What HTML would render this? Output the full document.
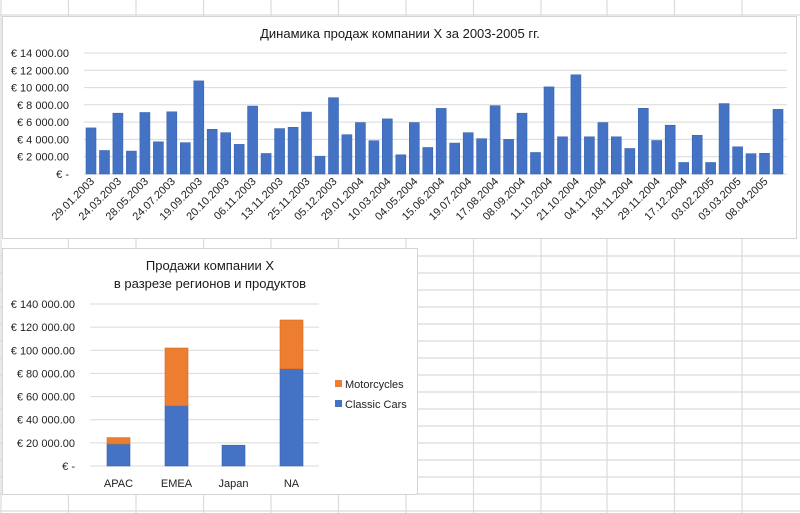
<!DOCTYPE html>
<html><head><meta charset="utf-8"><style>
html,body{margin:0;padding:0;background:#fff;}
svg{display:block;font-family:"Liberation Sans","DejaVu Sans",sans-serif;}
</style></head><body>
<svg width="800" height="513" viewBox="0 0 800 513" xmlns="http://www.w3.org/2000/svg">
<g stroke="#dadada" stroke-width="1.2">
<line x1="1" y1="0" x2="1" y2="513"/>
<line x1="68.5" y1="0" x2="68.5" y2="513"/><line x1="136" y1="0" x2="136" y2="513"/><line x1="203.5" y1="0" x2="203.5" y2="513"/><line x1="271" y1="0" x2="271" y2="513"/><line x1="338.5" y1="0" x2="338.5" y2="513"/><line x1="406" y1="0" x2="406" y2="513"/><line x1="473.5" y1="0" x2="473.5" y2="513"/><line x1="541" y1="0" x2="541" y2="513"/><line x1="607" y1="0" x2="607" y2="513"/><line x1="674.5" y1="0" x2="674.5" y2="513"/><line x1="742" y1="0" x2="742" y2="513"/>
<line x1="0" y1="15" x2="800" y2="15"/><line x1="0" y1="256" x2="800" y2="256"/><line x1="0" y1="273" x2="800" y2="273"/><line x1="0" y1="290" x2="800" y2="290"/><line x1="0" y1="307" x2="800" y2="307"/><line x1="0" y1="324" x2="800" y2="324"/><line x1="0" y1="341" x2="800" y2="341"/><line x1="0" y1="358" x2="800" y2="358"/><line x1="0" y1="375" x2="800" y2="375"/><line x1="0" y1="392" x2="800" y2="392"/><line x1="0" y1="409" x2="800" y2="409"/><line x1="0" y1="426" x2="800" y2="426"/><line x1="0" y1="443" x2="800" y2="443"/><line x1="0" y1="460" x2="800" y2="460"/><line x1="0" y1="477" x2="800" y2="477"/><line x1="0" y1="494" x2="800" y2="494"/><line x1="0" y1="511" x2="800" y2="511"/>
</g>
<rect x="2.5" y="16.5" width="794" height="222" fill="#fff" stroke="#d4d4d4"/>
<text x="400" y="38" font-size="13" text-anchor="middle" fill="#1a1a1a">Динамика продаж компании X за 2003-2005 гг.</text>
<g stroke="#d9d9d9" stroke-width="1">
<line x1="84" y1="53" x2="787" y2="53"/><line x1="84" y1="70.3" x2="787" y2="70.3"/><line x1="84" y1="87.6" x2="787" y2="87.6"/><line x1="84" y1="104.8" x2="787" y2="104.8"/><line x1="84" y1="122.1" x2="787" y2="122.1"/><line x1="84" y1="139.4" x2="787" y2="139.4"/><line x1="84" y1="156.7" x2="787" y2="156.7"/><line x1="84" y1="174" x2="787" y2="174"/>
</g>
<g font-size="11" text-anchor="end" fill="#222">
<text x="69" y="57">€ 14 000.00</text><text x="69" y="74.3">€ 12 000.00</text><text x="69" y="91.6">€ 10 000.00</text><text x="69" y="108.8">€ 8 000.00</text><text x="69" y="126.1">€ 6 000.00</text><text x="69" y="143.4">€ 4 000.00</text><text x="69" y="160.7">€ 2 000.00</text><text x="69" y="178">€ -</text>
</g>
<g fill="#4472c4" stroke="#3a64b0" stroke-width="0.6">
<rect x="86" y="127.9" width="10" height="46.1"/><rect x="99.5" y="150.5" width="10" height="23.5"/><rect x="112.9" y="113.2" width="10" height="60.8"/><rect x="126.4" y="151.1" width="10" height="22.9"/><rect x="139.9" y="112.5" width="10" height="61.5"/><rect x="153.4" y="141.8" width="10" height="32.2"/><rect x="166.8" y="111.8" width="10" height="62.2"/><rect x="180.3" y="142.7" width="10" height="31.3"/><rect x="193.8" y="80.9" width="10" height="93.1"/><rect x="207.2" y="129.3" width="10" height="44.7"/><rect x="220.7" y="132.7" width="10" height="41.3"/><rect x="234.2" y="144.4" width="10" height="29.6"/><rect x="247.6" y="106.1" width="10" height="67.9"/><rect x="261.1" y="153.5" width="10" height="20.5"/><rect x="274.6" y="128.6" width="10" height="45.4"/><rect x="288.1" y="127.3" width="10" height="46.7"/><rect x="301.5" y="112.1" width="10" height="61.9"/><rect x="315" y="156.2" width="10" height="17.8"/><rect x="328.5" y="97.7" width="10" height="76.3"/><rect x="341.9" y="134.7" width="10" height="39.3"/><rect x="355.4" y="122.6" width="10" height="51.4"/><rect x="368.9" y="140.7" width="10" height="33.3"/><rect x="382.3" y="118.9" width="10" height="55.1"/><rect x="395.8" y="154.8" width="10" height="19.2"/><rect x="409.3" y="122.6" width="10" height="51.4"/><rect x="422.8" y="147.5" width="10" height="26.5"/><rect x="436.2" y="108.4" width="10" height="65.6"/><rect x="449.7" y="143.1" width="10" height="30.9"/><rect x="463.2" y="132.7" width="10" height="41.3"/><rect x="476.6" y="138.7" width="10" height="35.3"/><rect x="490.1" y="105.7" width="10" height="68.3"/><rect x="503.6" y="139.4" width="10" height="34.6"/><rect x="517" y="113.2" width="10" height="60.8"/><rect x="530.5" y="152.5" width="10" height="21.5"/><rect x="544" y="86.9" width="10" height="87.1"/><rect x="557.5" y="136.8" width="10" height="37.2"/><rect x="570.9" y="74.8" width="10" height="99.2"/><rect x="584.4" y="136.8" width="10" height="37.2"/><rect x="597.9" y="122.6" width="10" height="51.4"/><rect x="611.3" y="136.8" width="10" height="37.2"/><rect x="624.8" y="148.5" width="10" height="25.5"/><rect x="638.3" y="108.3" width="10" height="65.7"/><rect x="651.7" y="140.5" width="10" height="33.5"/><rect x="665.2" y="125.2" width="10" height="48.8"/><rect x="678.7" y="162.5" width="10" height="11.5"/><rect x="692.2" y="135.3" width="10" height="38.7"/><rect x="705.6" y="162.5" width="10" height="11.5"/><rect x="719.1" y="103.6" width="10" height="70.4"/><rect x="732.6" y="146.8" width="10" height="27.2"/><rect x="746" y="153.7" width="10" height="20.3"/><rect x="759.5" y="153.3" width="10" height="20.7"/><rect x="773" y="109.4" width="10" height="64.6"/>
</g>
<g font-size="11" text-anchor="end" fill="#222">
<text transform="translate(95,182) rotate(-45)">29.01.2003</text>
<text transform="translate(121.9,182) rotate(-45)">24.03.2003</text>
<text transform="translate(148.9,182) rotate(-45)">28.05.2003</text>
<text transform="translate(175.8,182) rotate(-45)">24.07.2003</text>
<text transform="translate(202.8,182) rotate(-45)">19.09.2003</text>
<text transform="translate(229.7,182) rotate(-45)">20.10.2003</text>
<text transform="translate(256.6,182) rotate(-45)">06.11.2003</text>
<text transform="translate(283.6,182) rotate(-45)">13.11.2003</text>
<text transform="translate(310.5,182) rotate(-45)">25.11.2003</text>
<text transform="translate(337.5,182) rotate(-45)">05.12.2003</text>
<text transform="translate(364.4,182) rotate(-45)">29.01.2004</text>
<text transform="translate(391.3,182) rotate(-45)">10.03.2004</text>
<text transform="translate(418.3,182) rotate(-45)">04.05.2004</text>
<text transform="translate(445.2,182) rotate(-45)">15.06.2004</text>
<text transform="translate(472.2,182) rotate(-45)">19.07.2004</text>
<text transform="translate(499.1,182) rotate(-45)">17.08.2004</text>
<text transform="translate(526,182) rotate(-45)">08.09.2004</text>
<text transform="translate(553,182) rotate(-45)">11.10.2004</text>
<text transform="translate(579.9,182) rotate(-45)">21.10.2004</text>
<text transform="translate(606.9,182) rotate(-45)">04.11.2004</text>
<text transform="translate(633.8,182) rotate(-45)">18.11.2004</text>
<text transform="translate(660.7,182) rotate(-45)">29.11.2004</text>
<text transform="translate(687.7,182) rotate(-45)">17.12.2004</text>
<text transform="translate(714.6,182) rotate(-45)">03.02.2005</text>
<text transform="translate(741.6,182) rotate(-45)">03.03.2005</text>
<text transform="translate(768.5,182) rotate(-45)">08.04.2005</text>
</g>
<rect x="2.5" y="248.5" width="415" height="246" fill="#fff" stroke="#d4d4d4"/>
<text x="210" y="270" font-size="13" text-anchor="middle" fill="#1a1a1a">Продажи компании X</text>
<text x="210" y="288" font-size="13" text-anchor="middle" fill="#1a1a1a">в разрезе регионов и продуктов</text>
<g stroke="#d9d9d9" stroke-width="1">
<line x1="90" y1="304" x2="319" y2="304"/><line x1="90" y1="327.1" x2="319" y2="327.1"/><line x1="90" y1="350.3" x2="319" y2="350.3"/><line x1="90" y1="373.4" x2="319" y2="373.4"/><line x1="90" y1="396.6" x2="319" y2="396.6"/><line x1="90" y1="419.7" x2="319" y2="419.7"/><line x1="90" y1="442.9" x2="319" y2="442.9"/><line x1="90" y1="466" x2="319" y2="466"/>
</g>
<g font-size="11" text-anchor="end" fill="#222">
<text x="75" y="308">€ 140 000.00</text><text x="75" y="331.1">€ 120 000.00</text><text x="75" y="354.3">€ 100 000.00</text><text x="75" y="377.4">€ 80 000.00</text><text x="75" y="400.6">€ 60 000.00</text><text x="75" y="423.7">€ 40 000.00</text><text x="75" y="446.9">€ 20 000.00</text><text x="75" y="470">€ -</text>
</g>
<g stroke-width="0.6">
<rect x="107" y="444" width="23" height="22" fill="#4472c4" stroke="#3a64b0"/>
<rect x="107" y="437.6" width="23" height="6.4" fill="#ed7d31" stroke="#d86c24"/>
<rect x="165" y="405.8" width="23" height="60.2" fill="#4472c4" stroke="#3a64b0"/>
<rect x="165" y="348" width="23" height="57.8" fill="#ed7d31" stroke="#d86c24"/>
<rect x="222" y="445.2" width="23" height="20.8" fill="#4472c4" stroke="#3a64b0"/>
<rect x="280" y="368.8" width="23" height="97.2" fill="#4472c4" stroke="#3a64b0"/>
<rect x="280" y="320" width="23" height="48.8" fill="#ed7d31" stroke="#d86c24"/>
</g>
<g font-size="11" text-anchor="middle" fill="#222">
<text x="118.5" y="487">APAC</text><text x="176.5" y="487">EMEA</text><text x="233.5" y="487">Japan</text><text x="291.5" y="487">NA</text>
</g>
<rect x="335" y="380" width="7" height="7" fill="#ed7d31"/>
<rect x="335" y="400" width="7" height="7" fill="#4472c4"/>
<g font-size="11" fill="#222">
<text x="345" y="388">Motorcycles</text><text x="345" y="408">Classic Cars</text>
</g>
</svg>
</body></html>
